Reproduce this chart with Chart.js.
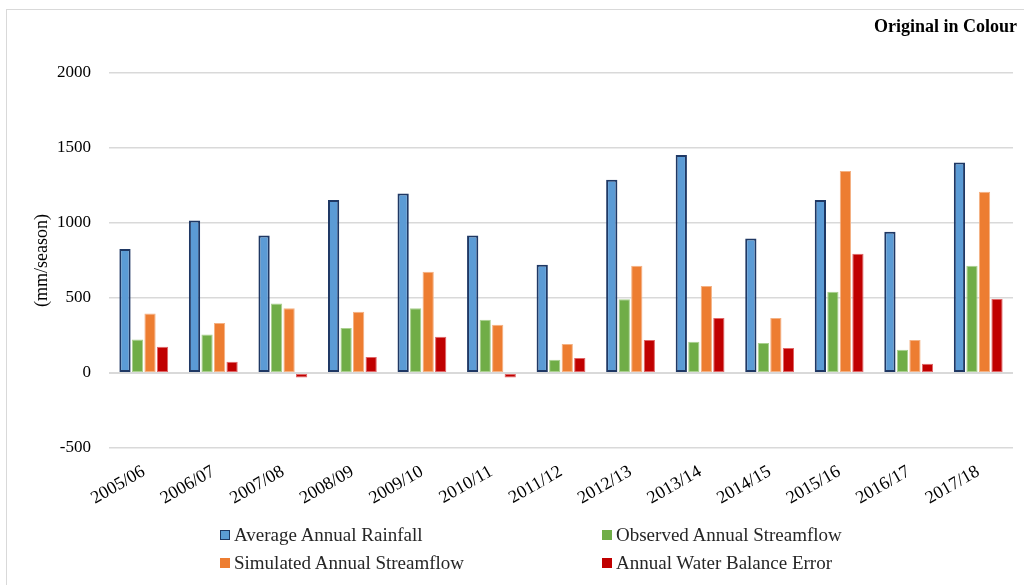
<!DOCTYPE html>
<html>
<head>
<meta charset="utf-8">
<script src="https://cdn.jsdelivr.net/npm/chart.js@4.4.1/dist/chart.umd.min.js"></script>
<style>
  html, body { margin: 0; padding: 0; background: #fff; }
  body { width: 1024px; height: 585px; position: relative; overflow: hidden; font-family: "Liberation Serif", "Times New Roman", serif; }
  #frame { position: absolute; left: 6px; top: 9px; width: 1030px; height: 590px; border-top: 1.5px solid #d9d9d9; border-left: 1.5px solid #d9d9d9; }
  #wrap { position: absolute; left: 0; top: 0; width: 1024px; height: 585px; }
  #note { position: absolute; right: 7px; top: 16px; font-weight: bold; font-size: 18px; color: #000; }
  .lg { position: absolute; font-size: 19px; color: #262626; white-space: nowrap; line-height: 22px; }
  .lg span.box { display: inline-block; width: 10px; height: 10px; margin-right: 4px; vertical-align: 1px; box-sizing: border-box; }
</style>
</head>
<body>
<div id="frame"></div>
<div id="wrap"><canvas id="c" width="1024" height="585"></canvas></div>
<div id="note">Original in Colour</div>
<div id="legend"></div>
<script>
const categories = ["2005/06","2006/07","2007/08","2008/09","2009/10","2010/11","2011/12","2012/13","2013/14","2014/15","2015/16","2016/17","2017/18"];
const rainfall   = [827, 1017, 917, 1153, 1197, 917, 722, 1289, 1453, 897, 1153, 942, 1404];
const observed   = [224, 257, 464, 300, 431, 355, 89, 491, 209, 200, 542, 155, 715];
const simulated  = [397, 333, 431, 409, 675, 322, 193, 715, 580, 367, 1347, 220, 1209];
const wbError    = [175, 75, -30, 107, 242, -30, 100, 220, 367, 167, 795, 62, 493];
const seriesNames = ["Average Annual Rainfall", "Observed Annual Streamflow", "Simulated Annual Streamflow", "Annual Water Balance Error"];
const yTicks = [-500, 0, 500, 1000, 1500, 2000];

const fills   = ["#5B9BD5", "#70AD47", "#ED7D31", "#C00000"];
const borders = ["#1F3864", "#A9D08E", "#F4B183", "#E06666"];
const bw      = [2, 1, 1, 1];
const seriesData = [rainfall, observed, simulated, wbError];

const serif = '"Liberation Serif", "Times New Roman", serif';

new Chart(document.getElementById('c'), {
  type: 'bar',
  data: {
    labels: categories,
    datasets: seriesData.map((d, i) => ({
      label: seriesNames[i],
      data: d,
      backgroundColor: fills[i],
      borderColor: borders[i],
      borderWidth: bw[i],
      borderSkipped: false,
      categoryPercentage: 0.72,
      barPercentage: 0.9
    }))
  },
  options: {
    responsive: false,
    animation: false,
    devicePixelRatio: 1,
    layout: { padding: { top: 73, left: 7, right: 11, bottom: 67 } },
    plugins: { legend: { display: false }, tooltip: { enabled: false } },
    scales: {
      x: {
        grid: { display: false },
        border: { display: false },
        ticks: { color: '#000', font: { family: serif, size: 18 }, minRotation: 30, maxRotation: 30, padding: 5, autoSkip: false },
        afterFit: s => { s.height = 70; }
      },
      y: {
        min: -500, max: 2000,
        afterBuildTicks: s => { s.ticks = yTicks.map(v => ({ value: v })); },
        grid: {
          drawTicks: false,
          color: '#d9d9d9',
          lineWidth: ctx => (ctx.tick && ctx.tick.value === 0 ? 2 : 1.5)
        },
        border: { display: false },
        ticks: { color: '#000', font: { family: serif, size: 17 }, padding: 18, callback: v => String(v) },
        title: { display: true, text: '(mm/season)', color: '#000', font: { family: serif, size: 18 }, padding: { top: 24, bottom: 0 } },
        afterFit: s => { s.width = 102; }
      }
    }
  }
});

// HTML legend (two columns)
const legendPos = [[220, 524], [602, 524], [220, 552], [602, 552]];
const legendOrder = [0, 1, 2, 3];
const lg = document.getElementById('legend');
legendOrder.forEach((idx, k) => {
  const el = document.createElement('div');
  el.className = 'lg';
  el.style.left = legendPos[k][0] + 'px';
  el.style.top = legendPos[k][1] + 'px';
  const box = document.createElement('span');
  box.className = 'box';
  box.style.background = fills[idx];
  if (idx === 0) box.style.border = '1.5px solid ' + borders[0];
  el.appendChild(box);
  el.appendChild(document.createTextNode(seriesNames[idx]));
  lg.appendChild(el);
});
</script>
</body>
</html>
